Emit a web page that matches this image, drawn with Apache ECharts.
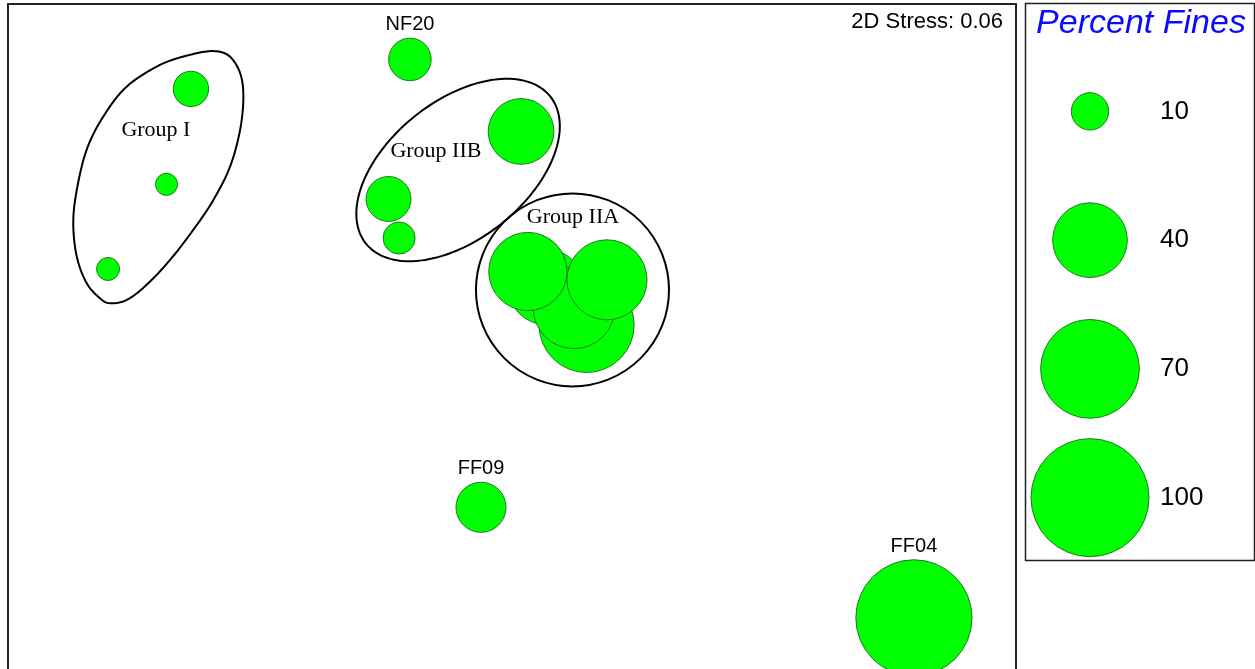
<!DOCTYPE html>
<html>
<head>
<meta charset="utf-8">
<title>Percent Fines NMDS</title>
<script src="https://cdn.jsdelivr.net/npm/echarts@6/dist/echarts.min.js"></script>
<style>
  html, body { margin: 0; padding: 0; background: #fff; }
  #chart { width: 1255px; height: 669px; }
</style>
</head>
<body>
<div id="chart"></div>
<script>
// NMDS ordination of stations, bubble size = percent fines
const sampleNames = ['', '', '', 'NF20', '', '', '', 'FF09', 'FF04', '', '', '', '', ''];
const sampleX = [-1.274, -1.371, -1.603, -0.405, 0.036, -0.490, -0.448, -0.123, 1.595, 0.296, 0.135, 0.246, 0.063, 0.377];
const sampleY = [1.163, 0.784, 0.448, 1.280, 0.994, 0.726, 0.571, -0.498, -0.937, 0.226, 0.377, 0.294, 0.438, 0.405];
const percentFines = [9, 3.5, 3.8, 13, 31, 14.5, 7.4, 18, 97, 65, 41, 48, 44, 46];

// Group annotations
const groupNames = ['Group I', 'Group IIB', 'Group IIA'];
const groupLabelX = [-1.413, -0.302, 0.242];
const groupLabelY = [1.0, 0.917, 0.655];

// Group I outline vertices (closed curve through them)
const groupIOutlineX = [-1.187, -1.278, -1.397, -1.529, -1.622, -1.688, -1.727, -1.741, -1.727, -1.688, -1.635, -1.595, -1.529, -1.450, -1.357, -1.265, -1.185, -1.119, -1.079, -1.066, -1.079, -1.123];
const groupIOutlineY = [1.313, 1.298, 1.258, 1.172, 1.053, 0.921, 0.762, 0.630, 0.497, 0.392, 0.332, 0.312, 0.325, 0.385, 0.484, 0.603, 0.722, 0.854, 1.000, 1.132, 1.226, 1.294];
// Group IIB ellipse: centre, semi-axes, tilt (degrees)
const groupIIBEllipse = { cx: -0.214, cy: 0.841, a: 0.468, b: 0.274, angle: 38.6 };
// Group IIA circle
const groupIIACircle = { cx: 0.240, cy: 0.365, r: 0.383 };

// Bubble-size key
const legendValues = [10, 40, 70, 100];

const FILL = '#00ff00';
const EDGE = '#1e7b1e';
const FRAME = '#222';
const sizeOf = v => 11.8 * Math.sqrt(v);

// closed Catmull-Rom curve through pixel points
function closedSpline(pts, steps) {
  const out = [];
  const n = pts.length;
  for (let i = 0; i < n; i++) {
    const p0 = pts[(i - 1 + n) % n], p1 = pts[i], p2 = pts[(i + 1) % n], p3 = pts[(i + 2) % n];
    for (let s = 0; s < steps; s++) {
      const t = s / steps, t2 = t * t, t3 = t2 * t;
      const f = (a, b, c, d) => 0.5 * (2 * b + (-a + c) * t + (2 * a - 5 * b + 4 * c - d) * t2 + (-a + 3 * b - 3 * c + d) * t3);
      out.push([f(p0[0], p1[0], p2[0], p3[0]), f(p0[1], p1[1], p2[1], p3[1])]);
    }
  }
  return out;
}

const chart = echarts.init(document.getElementById('chart'), null, { renderer: 'canvas' });

const sampleData = sampleX.map((x, i) => [x, sampleY[i], percentFines[i], sampleNames[i]]);
const groupLabelData = groupNames.map((n, i) => [groupLabelX[i], groupLabelY[i], n]);
const hullData = [
  [groupIOutlineX[0], groupIOutlineY[0]],
  [groupIIBEllipse.cx, groupIIBEllipse.cy],
  [groupIIACircle.cx, groupIIACircle.cy]
];

const hidden = {
  axisLine: { show: false }, axisTick: { show: false },
  axisLabel: { show: false }, splitLine: { show: false }
};
const frameLine = { show: true, onZero: false, lineStyle: { color: FRAME, width: 2 } };

chart.setOption({
  animation: false,
  backgroundColor: '#fff',
  grid: [
    // plot panel runs off the bottom of the page, so only three sides are framed
    { left: 8, top: 4, width: 1008, height: 665.28 },
    { left: 1025, top: 47, width: 130, height: 515 }
  ],
  xAxis: [
    { type: 'value', gridIndex: 0, min: -2, max: 2, position: 'top',
      axisLine: frameLine, axisTick: { show: false }, axisLabel: { show: false }, splitLine: { show: false } },
    Object.assign({ type: 'value', gridIndex: 1, min: 0, max: 1 }, hidden)
  ],
  yAxis: [
    { type: 'value', gridIndex: 0, min: -1.14, max: 1.5, position: 'left',
      axisLine: frameLine, axisTick: { show: false }, axisLabel: { show: false }, splitLine: { show: false } },
    {
      type: 'category', gridIndex: 1, inverse: true, position: 'right',
      data: legendValues.map(String),
      axisLine: { show: false }, axisTick: { show: false }, splitLine: { show: false },
      axisLabel: { show: true, margin: 5, color: '#000', fontSize: 26, fontFamily: 'Liberation Sans, Arial, sans-serif', align: 'left' }
    },
    { type: 'value', gridIndex: 0, min: -1.14, max: 1.5, position: 'right',
      axisLine: frameLine, axisTick: { show: false }, axisLabel: { show: false }, splitLine: { show: false } }
  ],
  graphic: [
    {
      type: 'rect', z: 1,
      shape: { x: 1025.5, y: 3.5, width: 229, height: 557 },
      style: { fill: 'transparent', stroke: FRAME, lineWidth: 1.5 }
    },
    {
      type: 'text', z: 10,
      style: {
        text: 'Percent Fines', x: 1141, y: 24, align: 'center', verticalAlign: 'middle',
        font: 'italic 34px "Liberation Sans", Arial, sans-serif', fill: '#0a0aff'
      }
    },
    {
      type: 'text', z: 10,
      style: {
        text: '2D Stress: 0.06', x: 1003, y: 22, align: 'right', verticalAlign: 'middle',
        font: '22px "Liberation Sans", Arial, sans-serif', fill: '#000'
      }
    }
  ],
  series: [
    {
      // group outlines
      type: 'custom', xAxisIndex: 0, yAxisIndex: 0, z: 2, silent: true, clip: false,
      data: hullData,
      renderItem: function (params, api) {
        const style = { fill: 'none', stroke: '#000', lineWidth: 2 };
        if (params.dataIndex === 0) {
          const pts = groupIOutlineX.map((x, i) => api.coord([x, groupIOutlineY[i]]));
          return { type: 'polygon', shape: { points: closedSpline(pts, 10) }, style: style };
        }
        if (params.dataIndex === 1) {
          const e = groupIIBEllipse;
          const th = e.angle * Math.PI / 180;
          const pts = [];
          for (let k = 0; k < 180; k++) {
            const t = k / 180 * Math.PI * 2;
            const x = e.cx + e.a * Math.cos(t) * Math.cos(th) - e.b * Math.sin(t) * Math.sin(th);
            const y = e.cy + e.a * Math.cos(t) * Math.sin(th) + e.b * Math.sin(t) * Math.cos(th);
            pts.push(api.coord([x, y]));
          }
          return { type: 'polygon', shape: { points: pts }, style: style };
        }
        const c = groupIIACircle;
        const p = api.coord([c.cx, c.cy]);
        const r = api.size([c.r, 0])[0];
        return { type: 'circle', shape: { cx: p[0], cy: p[1], r: r }, style: style };
      }
    },
    {
      type: 'scatter', xAxisIndex: 0, yAxisIndex: 0, z: 3,
      data: sampleData,
      symbol: 'circle',
      symbolSize: v => sizeOf(v[2]),
      itemStyle: { color: FILL, borderColor: EDGE, borderWidth: 1, opacity: 1 },
      label: {
        show: true, position: 'top', distance: 3,
        formatter: p => p.data[3],
        color: '#000', fontSize: 20, fontFamily: 'Liberation Sans, Arial, sans-serif'
      },
      emphasis: { disabled: true }
    },
    {
      // group names
      type: 'custom', xAxisIndex: 0, yAxisIndex: 0, z: 4, silent: true,
      data: groupLabelData,
      renderItem: function (params, api) {
        const p = api.coord([api.value(0), api.value(1)]);
        return {
          type: 'text',
          style: {
            text: groupNames[params.dataIndex], x: p[0], y: p[1],
            align: 'center', verticalAlign: 'middle',
            font: '22px "Liberation Serif", "Times New Roman", serif', fill: '#000'
          }
        };
      }
    },
    {
      type: 'scatter', xAxisIndex: 1, yAxisIndex: 1, z: 3,
      data: legendValues.map(v => [0.5, String(v), v]),
      symbol: 'circle',
      symbolSize: v => sizeOf(v[2]),
      itemStyle: { color: FILL, borderColor: EDGE, borderWidth: 1, opacity: 1 },
      emphasis: { disabled: true }
    }
  ]
});
</script>
</body>
</html>
